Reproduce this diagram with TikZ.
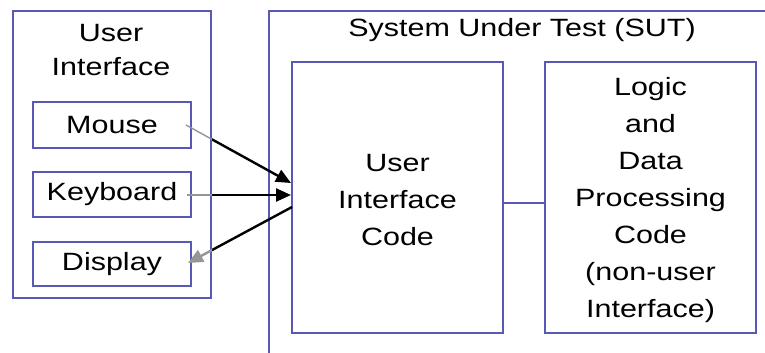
\documentclass[tikz,border=0pt]{standalone}
\usepackage{fontspec}
\setmainfont{Liberation Sans}[FakeStretch=1.22]
\usetikzlibrary{arrows.meta}
\definecolor{frameblue}{RGB}{88,88,182}
\definecolor{leadgray}{RGB}{150,150,150}
\tikzset{
  frame/.style={draw=frameblue, line width=2pt, fill=none, inner sep=0pt},
  label/.style={align=center, inner sep=0pt, font=\fontsize{25pt}{37pt}\selectfont},
  flow/.style={draw=black, line width=2.4pt, -{Triangle[length=15pt,width=13pt]}},
  flowgray/.style={draw=leadgray, line width=2.4pt, -{Triangle[length=15pt,width=13pt]}, color=leadgray},
  link/.style={draw=frameblue, line width=2pt}
}
\begin{document}
\begin{tikzpicture}[x=1pt, y=-1pt]
\clip (0,0) rectangle (765,353);
\fill[white] (0,0) rectangle (765,353);

% user interface devices
\node[frame, minimum width=198pt, minimum height=287pt, anchor=north west] (ui) at (12,10) {};
\node[label, font=\fontsize{25pt}{34pt}\selectfont] (uititle) at (111,50) {User\\Interface};
\node[frame, minimum width=158pt, minimum height=46pt] (mouse) at (112,125) {};
\node[label] (mousetxt) at (112,125) {Mouse};
\node[frame, minimum width=158pt, minimum height=45pt] (keyboard) at (112,194.5) {};
\node[label] (keyboardtxt) at (112,194.5) {Keyboard};
\node[frame, minimum width=158pt, minimum height=44pt] (display) at (112,264) {};
\node[label] (displaytxt) at (112,264) {Display};

% system under test
\node[frame, minimum width=520pt, minimum height=370pt, anchor=north west] (sut) at (268,10) {};
\node[label] (suttitle) at (522,30) {System Under Test (SUT)};
\node[frame, minimum width=211pt, minimum height=271pt] (uic) at (397.5,197.5) {};
\node[label] (uictxt) at (397.5,200) {User\\Interface\\Code};
\node[frame, minimum width=211pt, minimum height=271pt] (logic) at (650.5,197.5) {};
\node[label] (logictxt) at (650.5,200) {Logic\\and\\Data\\Processing\\Code\\(non-user\\Interface)};

\draw[link] ([yshift=-5.5pt]uic.east) -- ([yshift=-5.5pt]logic.west);

% device connectors: grey inside the device panel, black outside it
\coordinate (inM) at (291,183);
\coordinate (inK) at (291,195);
\coordinate (outD) at (292,207);
\coordinate (mouseEnd) at (186,125);
\coordinate (keyEnd) at (187,195);
\coordinate (dispEnd) at (188,263);

\begin{scope}
  \clip (ui.east |- 0,0) rectangle (765,353);
  \draw[flow] (mouseEnd) -- (inM);
  \draw[flow] (keyEnd) -- (inK);
  \draw[flow] (outD) -- (dispEnd);
\end{scope}
\begin{scope}
  \clip (0,0) rectangle (ui.east |- 0,353);
  \draw[flowgray, line width=1.4pt] (mouseEnd) -- (inM);
  \draw[flowgray, line width=1.4pt] (keyEnd) -- (inK);
  \draw[flowgray] (outD) -- (dispEnd);
\end{scope}
\end{tikzpicture}
\end{document}
